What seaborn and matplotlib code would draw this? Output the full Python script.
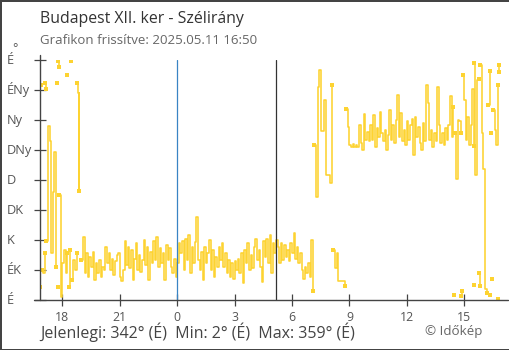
import numpy as np
import pandas as pd
import matplotlib
matplotlib.use("Agg")
import matplotlib.pyplot as plt
import matplotlib.transforms as mtransforms
import seaborn as sns

# ---------------------------------------------------------------- data
title = "Budapest XII. ker - Szélirány"
updated = "2025.05.11 16:50"
start_hhmm = (16, 50)          # first reading of the 24 h window
step_min = 5                   # regular reporting interval

# regular 5-minute wind direction reports (degrees), NaN = missing report
direction_deg = [
    20, 45, 40, 70, 88, 261, 238, 70, 162, 222, 50, 20, 157, 5, 55, 75, 40, 70, 20, 75,
    30, 60, 45, 70, 311, np.nan,
    60, 95, 40, 70, 35, 65, 50, 72, 30, 55, 40, 60, 35, 50, 45, 80, 55, 70, 45, 62,
    38, 58, 68,
    70, 35, 28, 45, 88, 52, 80, 48, 75, 30, 62, 85, 45, 68, 42, 60, 90, 52, 80, 30,
    72, 55, 88, 60, 95, 50, 78, 55, 70, 30, 82, 60, 78, 50, 40, 62, 35, 55, 85, 70,
    88, 45, 92, 60, 97, 40, 80, 55, 87, 125,
    60, 45, 72, 30, 80, 55, 70, 90, 45, 75, 35, 65, 50, 80, 60, 85, 50, 70, 40, 60,
    35, 55, 32, 58, 45, 62, 40, 70, 25, 75, 55, 85, 45, 68, 48, 80, 92, 60, 75, 50,
    27, 88, 65, 92, 55, 98, 40, 85, 70, 90,
    80, 55, 85, 60, 82, 65, 75, 58, 85, 70, 100, 62, 80, 55, 70, 45, 32, 50, 40, 55,
    35, 90, 13,
    233, 155, 320, 345, 254, 254, 300, 188, 188, 188, 175, 322,
    75, 48, 70, 29, 29, 29, 29, 21,
    286, 259, 232, 230, 234, 229, 233, 230, 262, 235, 225, 279, 240, 252, 238, 262,
    240, 277, 230, 258, 245, 282, 250, 238, 255, 225, 248, 285, 240, 262, 235, 270,
    308, 245, 280, 238, 255, 232, 268, 240, 262, 272, 218, 275, 245, 260, 235, 225,
    265, 238, 322, 295, 240, 255, 230, 250, 238, 320,
    262, 235, 250, 232, 258, 240, 262, 306, 245, 290, 250, 182, 270, 268, 250, 337,
    300, 240, 275, 232, 262, 317, 231, 188, 330, 331, 352, 250, 196, 17, 10, 292,
    343, 250, 285, 255, 232, 322, 342,
]

# readings logged between the regular reports (minutes after start, degrees)
extra_minutes = [4, 16, 18, 52, 57, 59, 86, 98, 117, 121, 122, 123,
                 1297, 1321, 1323, 1361, 1362, 1377, 1378, 1411, 1417, 1437, 1438]
extra_deg = [323, 326, 317, 326, 358, 349, 337, 359, 325, 165, 311, 163,
             8, 6, 14, 23, 355, 41, 21, 8, 32, 2, 353]

compass_labels = ["É", "ÉK", "K", "DK", "D", "DNy", "Ny", "ÉNy", "É"]
compass_deg = [0, 45, 90, 135, 180, 225, 270, 315, 360]
tick_hours = [18, 21, 0, 3, 6, 9, 12, 15]
midnight_hhmm = (0, 0)
sunrise_hhmm = (5, 10)

# ---------------------------------------------------------------- helpers
W, H = 510, 350
LINE = "#fdd331"
AXIS = "#444444"
TXT = "#555555"


def minutes_after_start(hh, mm):
    return ((hh * 60 + mm) - (start_hhmm[0] * 60 + start_hhmm[1])) % 1440


def sector(deg):
    return compass_labels[int(((deg % 360) + 22.5) // 45) % 8]


base_t = np.arange(len(direction_deg)) * step_min
df = pd.DataFrame({
    "t": np.concatenate([base_t, extra_minutes]).astype(float),
    "deg": np.concatenate([np.array(direction_deg, float), np.array(extra_deg, float)]),
}).sort_values("t", kind="stable").reset_index(drop=True)

# split the trace wherever it wraps around north (or a report is missing)
segments, cur, prev = [], [], None
for t, d in zip(df["t"], df["deg"]):
    if np.isnan(d):
        if cur:
            segments.append(cur)
        cur, prev = [], None
        continue
    if prev is not None and abs(d - prev) > 180:
        segments.append(cur)
        cur = []
    cur.append((t, d))
    prev = d
if cur:
    segments.append(cur)

# ---------------------------------------------------------------- figure
sns.set_theme(style="white")
plt.rcParams["font.family"] = ["Open Sans", "DejaVu Sans"]

fig = plt.figure(figsize=(W / 100, H / 100), dpi=100,
                 facecolor="white", edgecolor="#444444", linewidth=2)
ax = fig.add_axes([40 / W, 50 / H, 468 / W, 240 / H])
px_per_min = 19.14 / 60
ax.set_xlim(0, 468 / px_per_min)
ax.set_ylim(0, 360)
ax.set_facecolor("white")

for seg in segments:
    ts = [p[0] for p in seg]
    ds = [p[1] for p in seg]
    if len(seg) > 1:
        sns.lineplot(x=ts, y=ds, ax=ax, color=LINE, linewidth=1.15,
                     drawstyle="steps-post", estimator=None, sort=False,
                     legend=False, zorder=2)

ends = pd.DataFrame(
    [seg[0] for seg in segments] + [seg[-1] for seg in segments if len(seg) > 1],
    columns=["t", "deg"])
sns.scatterplot(data=ends, x="t", y="deg", ax=ax, marker="s", s=9,
                color=LINE, linewidth=0, zorder=2, legend=False)

# midnight and sunrise markers
t_mid = minutes_after_start(*midnight_hhmm)
t_sun = minutes_after_start(*sunrise_hhmm)
ax.axvline(t_mid, color="#3a84c4", lw=0.9, zorder=3)
ax.axvline(t_sun, color="#333333", lw=0.9, zorder=3)

# axes lines
for s in ax.spines.values():
    s.set_visible(False)
ax.plot([0, 0], [0, 245 / 240], transform=ax.transAxes, clip_on=False,
        color=AXIS, lw=1, zorder=4)
ax.plot([-6 / 468, 1], [0, 0], transform=ax.transAxes, clip_on=False,
        color=AXIS, lw=1, zorder=4)

# ticks
xt = [minutes_after_start(h, 0) for h in tick_hours]
ax.set_xticks(xt)
ax.set_xticklabels([str(h) for h in tick_hours])
ax.set_yticks(compass_deg)
ax.set_yticklabels([])
ax.tick_params(axis="both", which="major", direction="inout", length=9.2,
               width=0.9, color=AXIS, bottom=True, left=True)
ax.tick_params(axis="x", labelsize=8.8, labelcolor=TXT, pad=3.0)
ax.set_xlabel("")
ax.set_ylabel("")
ax.grid(False)
for tick, h in zip(ax.xaxis.get_major_ticks(), tick_hours):
    if h == midnight_hhmm[0]:
        tick.tick1line.set_color("#3a84c4")

ytr = mtransforms.blended_transform_factory(ax.transAxes, ax.transData)
for lab, d in zip(compass_labels, compass_deg):
    ax.text(-33 / 468, d - 6.5, lab, transform=ytr, ha="left", va="baseline",
            fontsize=9.2, color=TXT)
fig.text(12.5 / W, 1 - 52 / H, "°", ha="left", va="baseline", fontsize=9, color=TXT)

# header and footer
fig.text(40 / W, 1 - 19 / H, title, ha="left", va="center", fontsize=11.4,
         color="#333333")
fig.text(40 / W, 1 - 41 / H, f"Grafikon frissítve: {updated}", ha="left",
         va="center", fontsize=9.5, color="#666666")

vals = np.array([d for seg in segments for _, d in seg])
last = segments[-1][-1][1]
lo, hi = vals.min(), vals.max()
footer = (f"Jelenlegi: {last:.0f}° ({sector(last)})  "
          f"Min: {lo:.0f}° ({sector(lo)})  Max: {hi:.0f}° ({sector(hi)})")
fig.text(40 / W, 1 - 332 / H, footer, ha="left", va="center", fontsize=11.5,
         color="#444444")
fig.text(425 / W, 1 - 331 / H, "© Időkép", ha="left", va="center",
         fontsize=9.6, color="#666666")

fig.savefig("out.png", dpi=100, facecolor="white")
